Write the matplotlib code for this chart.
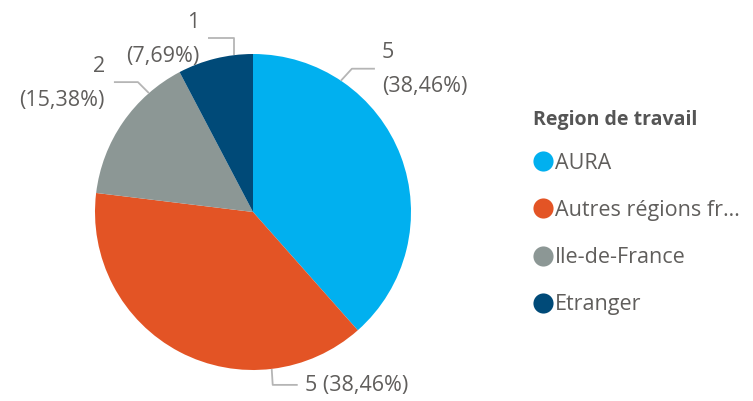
import numpy as np
import matplotlib
matplotlib.use("Agg")
import matplotlib.pyplot as plt
from matplotlib.lines import Line2D

categories = ["AURA", "Autres régions françaises", "Ile-de-France", "Etranger"]
legend_labels = ["AURA", "Autres régions fr…", "Ile-de-France", "Etranger"]
values = [5, 5, 2, 1]
colors = ["#01B0EF", "#E35425", "#8C9795", "#004A78"]
legend_title = "Region de travail"

TEXT = "#605E5C"
LINE = "#B5B5B5"
FONT = "Open Sans"
plt.rcParams["font.family"] = [FONT, "DejaVu Sans"]

W, H = 753, 401
fig = plt.figure(figsize=(W / 100, H / 100), dpi=100)
ax = fig.add_axes([0, 0, 1, 1])

cx, cy, R = 253, H - 212, 158
wedges, _ = ax.pie(values, colors=colors, startangle=90, counterclock=False,
                   center=(cx, cy), radius=R, frame=True,
                   wedgeprops=dict(linewidth=0))
ax.set_xlim(0, W)
ax.set_ylim(0, H)
ax.set_aspect("equal")
ax.axis("off")

total = sum(values)
# label layout: anchor angle (deg clockwise from top), elbow offset, horizontal length, side, two-line?
layout = [
    dict(ang=33.8, elbow=(11, 12), hlen=23, side="right", two=True),
    dict(ang=173.2, elbow=(1, -16), hlen=25, side="right", two=False),
    dict(ang=318.8, elbow=(-11, 11), hlen=24, side="left", two=True),
    dict(ang=353.2, elbow=(0, 17), hlen=26, side="left", two=True),
]
fs = 15.5
for v, lay in zip(values, layout):
    a = np.deg2rad(lay["ang"])
    x0, y0 = cx + R * np.sin(a), cy + R * np.cos(a)
    x1, y1 = x0 + lay["elbow"][0], y0 + lay["elbow"][1]
    sgn = 1 if lay["side"] == "right" else -1
    x2 = x1 + sgn * lay["hlen"]
    ax.plot([x0, x1, x2], [y0, y1, y1], color=LINE, lw=1.3, solid_capstyle="butt")
    pct = f"{v / total * 100:.2f}".replace(".", ",")
    txt = f"{v}\n({pct}%)" if lay["two"] else f"{v} ({pct}%)"
    tx = x2 + sgn * (7 if sgn > 0 else 9)
    ax.text(tx, y1 - 1, txt, ha="left" if sgn > 0 else "right", va="center",
            fontsize=fs, color=TEXT, linespacing=1.8,
            multialignment="left" if sgn > 0 else "right")

ax.text(533, H - 120, legend_title, ha="left", va="center", fontsize=14,
        fontweight="bold", color="#555555")

handles = [Line2D([], [], marker="o", linestyle="none", markersize=14.5,
                  markerfacecolor=c, markeredgewidth=0) for c in colors]
leg = ax.legend(handles, legend_labels, loc="upper left",
                bbox_to_anchor=(527 / W, 1 - 144 / H), frameon=False,
                fontsize=fs, labelspacing=1.22,
                handlelength=0.7, handletextpad=0.2, borderaxespad=0,
                labelcolor=TEXT)

fig.savefig("out.png", dpi=100)
